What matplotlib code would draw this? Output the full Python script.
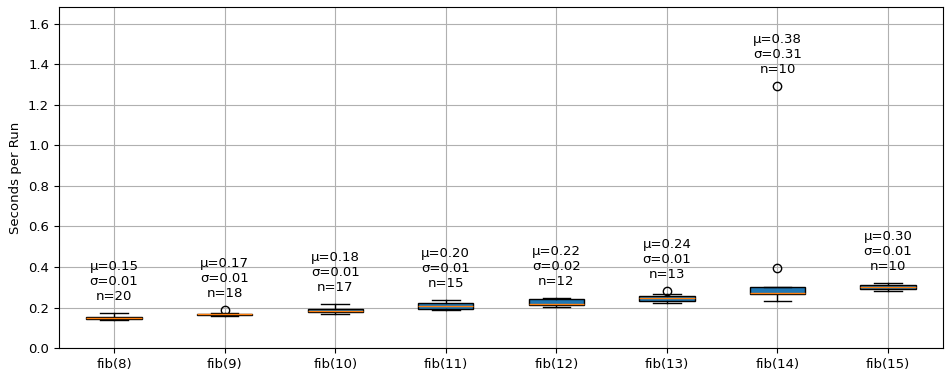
import matplotlib
matplotlib.use("Agg")
import matplotlib.pyplot as plt

labels = ["fib(8)", "fib(9)", "fib(10)", "fib(11)", "fib(12)", "fib(13)", "fib(14)", "fib(15)"]
q1 = [0.142, 0.163, 0.176, 0.193, 0.211, 0.234, 0.267, 0.290]
med = [0.148, 0.166, 0.182, 0.207, 0.216, 0.245, 0.273, 0.303]
q3 = [0.155, 0.168, 0.192, 0.220, 0.240, 0.256, 0.300, 0.310]
whislo = [0.137, 0.160, 0.168, 0.188, 0.202, 0.224, 0.234, 0.280]
whishi = [0.174, 0.172, 0.215, 0.237, 0.248, 0.268, 0.300, 0.322]
fliers = [[], [0.188], [], [], [], [0.281], [0.394, 1.295], []]
means = [0.15, 0.17, 0.18, 0.20, 0.22, 0.24, 0.38, 0.30]
stds = [0.01, 0.01, 0.01, 0.01, 0.02, 0.01, 0.31, 0.01]
counts = [20, 18, 17, 15, 12, 13, 10, 10]

stats = []
for i, lab in enumerate(labels):
    stats.append(dict(label=lab, q1=q1[i], med=med[i], q3=q3[i],
                      whislo=whislo[i], whishi=whishi[i], fliers=fliers[i]))

fig = plt.figure(figsize=(9.49, 3.72), dpi=100)
ax = fig.add_axes([0.062, 0.0645, 0.932, 0.9165])
bp = ax.bxp(stats, patch_artist=True, widths=0.5)
for b in bp["boxes"]:
    b.set_facecolor("#1f77b4")
    b.set_edgecolor("black")

top = max(max(whishi), max(max(f) if f else 0 for f in fliers))
for i in range(len(labels)):
    m = max([whishi[i]] + fliers[i])
    ax.text(i + 1, m + 0.05, f"μ={means[i]:.2f}\nσ={stds[i]:.2f}\nn={counts[i]}",
            ha="center", va="bottom", fontsize=9.5)

ax.set_ylim(0, top * 1.3)
ax.set_ylabel("Seconds per Run", fontsize=9.5)
ax.grid(True)
ax.tick_params(labelsize=9.5)
fig.savefig("out.png", dpi=100)
